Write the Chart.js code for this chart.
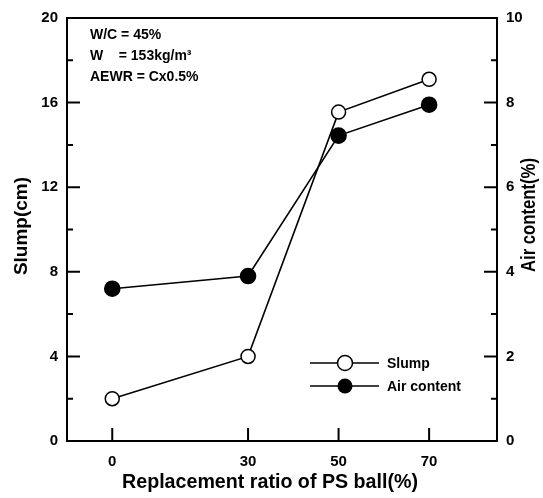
<!DOCTYPE html>
<html>
<head>
<meta charset="utf-8">
<script src="https://cdn.jsdelivr.net/npm/chart.js@4/dist/chart.umd.min.js"></script>
<style>
  html, body { margin: 0; padding: 0; background: #fff; }
  #wrap { width: 543px; height: 498px; position: relative; }
</style>
</head>
<body>
<div id="wrap"><canvas id="chart"></canvas></div>
<script>
// data
const ratios = [0, 30, 50, 70];
const slump = [2.0, 4.0, 15.55, 17.1];
const airContent = [3.6, 3.9, 7.22, 7.95];

const xTicks = [0, 30, 50, 70];
const slumpTicks = [0, 4, 8, 12, 16, 20];
const slumpMinor = [2, 6, 10, 14, 18];
const airTicks = [0, 2, 4, 6, 8, 10];
const airMinor = [1, 3, 5, 7, 9];

const xTitle = "Replacement ratio of PS ball(%)";
const yTitle = "Slump(cm)";
const y2Title = "Air content(%)";
const notes = ["W/C = 45%", "W    = 153kg/m\u00B3", "AEWR = Cx0.5%"];
const legendNames = ["Slump", "Air content"];

const FONT = "'Liberation Sans', Arial, sans-serif";

// frame, inward ticks, titles, notes and legend
const decorPlugin = {
  id: "decor",
  afterDraw(chart) {
    const ctx = chart.ctx;
    const a = chart.chartArea;
    const sx = chart.scales.x, sy = chart.scales.y, sy2 = chart.scales.y2;
    ctx.save();
    ctx.strokeStyle = "#000";
    ctx.lineWidth = 2;
    ctx.strokeRect(a.left, a.top, a.right - a.left, a.bottom - a.top);

    ctx.beginPath();
    for (const v of xTicks) {
      const px = sx.getPixelForValue(v);
      ctx.moveTo(px, a.bottom); ctx.lineTo(px, a.bottom - 13);
    }
    for (const v of slumpTicks) {
      const py = sy.getPixelForValue(v);
      ctx.moveTo(a.left, py); ctx.lineTo(a.left + 13, py);
    }
    for (const v of slumpMinor) {
      const py = sy.getPixelForValue(v);
      ctx.moveTo(a.left, py); ctx.lineTo(a.left + 6, py);
    }
    for (const v of airTicks) {
      const py = sy2.getPixelForValue(v);
      ctx.moveTo(a.right, py); ctx.lineTo(a.right - 13, py);
    }
    for (const v of airMinor) {
      const py = sy2.getPixelForValue(v);
      ctx.moveTo(a.right, py); ctx.lineTo(a.right - 6, py);
    }
    ctx.stroke();

    // axis titles
    ctx.fillStyle = "#000";
    ctx.textAlign = "center";
    ctx.textBaseline = "middle";
    ctx.save();
    ctx.font = "bold 20px " + FONT;
    ctx.translate(270, 482);
    ctx.scale(296 / ctx.measureText(xTitle).width, 1);
    ctx.fillText(xTitle, 0, 0);
    ctx.restore();
    ctx.font = "bold 19px " + FONT;
    ctx.save();
    ctx.translate(22, 226);
    ctx.rotate(-Math.PI / 2);
    ctx.fillText(yTitle, 0, 0);
    ctx.restore();
    // right title is set condensed in the original
    ctx.save();
    ctx.font = "bold 20px " + FONT;
    ctx.translate(529, 215);
    ctx.rotate(-Math.PI / 2);
    ctx.scale(114 / ctx.measureText(y2Title).width, 1);
    ctx.fillText(y2Title, 0, 0);
    ctx.restore();

    // mix notes
    ctx.textAlign = "left";
    ctx.font = "bold 14px " + FONT;
    notes.forEach((t, i) => ctx.fillText(t, 90, 35 + i * 21));

    // legend
    const rows = [363, 386];
    rows.forEach((ly, i) => {
      ctx.lineWidth = 1.5;
      ctx.beginPath();
      ctx.moveTo(310, ly); ctx.lineTo(379, ly);
      ctx.stroke();
      ctx.beginPath();
      ctx.arc(345, ly, 7.5, 0, Math.PI * 2);
      if (i === 0) {
        ctx.fillStyle = "#fff"; ctx.fill();
        ctx.lineWidth = 1.5; ctx.stroke();
      } else {
        ctx.fillStyle = "#000"; ctx.fill();
      }
      ctx.fillStyle = "#000";
      ctx.font = "bold 14px " + FONT;
      ctx.fillText(legendNames[i], 387, ly + 1);
    });
    ctx.restore();
  }
};

const tickFont = { family: FONT, size: 15, weight: "bold" };

new Chart(document.getElementById("chart"), {
  type: "line",
  data: {
    datasets: [
      {
        label: legendNames[1],
        data: ratios.map((x, i) => ({ x, y: airContent[i] })),
        yAxisID: "y2",
        borderColor: "#000",
        borderWidth: 1.6,
        backgroundColor: "#000",
        pointBackgroundColor: "#000",
        pointBorderColor: "#000",
        pointRadius: 7.5,
        tension: 0
      },
      {
        label: legendNames[0],
        data: ratios.map((x, i) => ({ x, y: slump[i] })),
        yAxisID: "y",
        borderColor: "#000",
        borderWidth: 1.6,
        pointBackgroundColor: "#fff",
        pointBorderColor: "#000",
        pointBorderWidth: 1.5,
        pointRadius: 7,
        tension: 0
      }
    ]
  },
  options: {
    responsive: true,
    maintainAspectRatio: false,
    animation: false,
    layout: { padding: { top: 12, left: 0, right: 0, bottom: 0 } },
    plugins: { legend: { display: false }, tooltip: { enabled: false } },
    scales: {
      x: {
        type: "linear",
        min: -10,
        max: 85,
        afterBuildTicks: s => { s.ticks = xTicks.map(v => ({ value: v })); },
        afterFit: s => { s.height = 57; },
        grid: { display: false, drawTicks: false },
        border: { display: false },
        ticks: { color: "#000", font: tickFont, padding: 12 }
      },
      y: {
        position: "left",
        min: 0,
        max: 20,
        afterBuildTicks: s => { s.ticks = slumpTicks.map(v => ({ value: v })); },
        afterFit: s => { s.width = 67; },
        grid: { display: false, drawTicks: false },
        border: { display: false },
        ticks: { color: "#000", font: tickFont, padding: 9 }
      },
      y2: {
        position: "right",
        min: 0,
        max: 10,
        afterBuildTicks: s => { s.ticks = airTicks.map(v => ({ value: v })); },
        afterFit: s => { s.width = 46; },
        grid: { display: false, drawTicks: false },
        border: { display: false },
        ticks: { color: "#000", font: tickFont, padding: 9 }
      }
    }
  },
  plugins: [decorPlugin]
});
</script>
</body>
</html>
